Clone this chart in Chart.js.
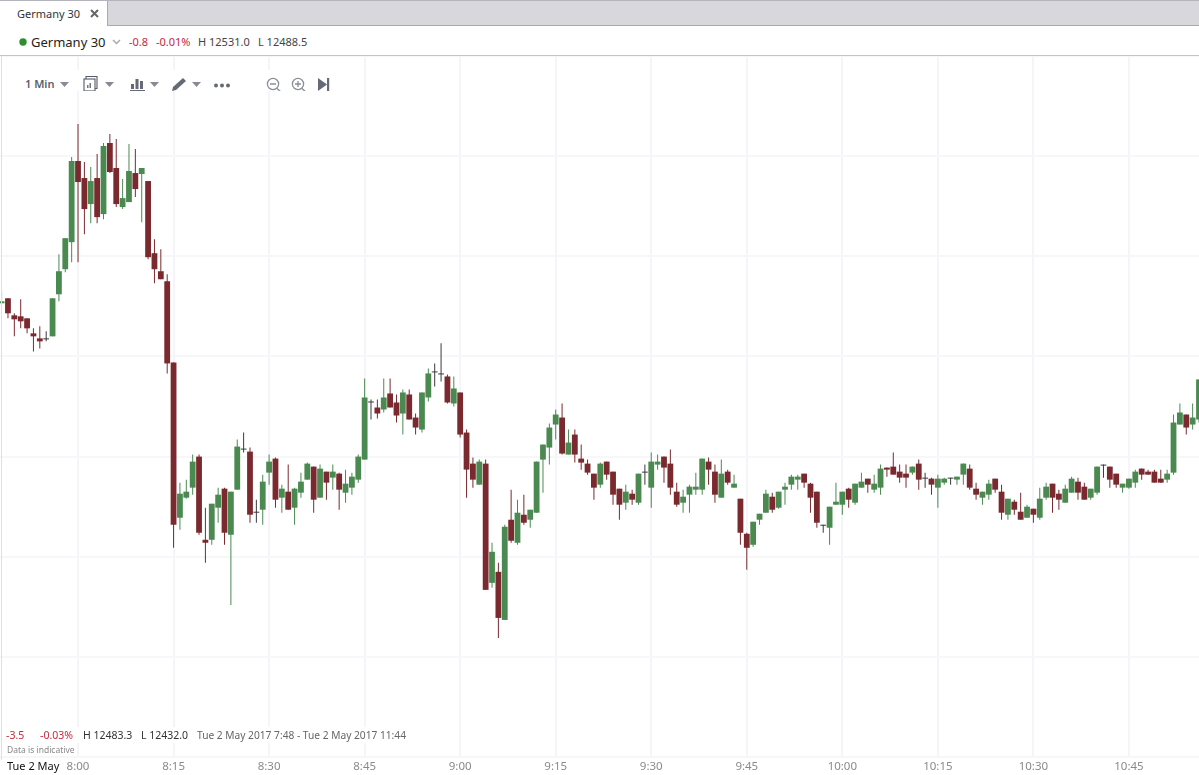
<!DOCTYPE html>
<html>
<head>
<meta charset="utf-8">
<title>Germany 30</title>
<script src="https://cdn.jsdelivr.net/npm/chart.js@4/dist/chart.umd.min.js"></script>
<style>
html, body { margin: 0; padding: 0; background: #fff; }
body { width: 1199px; height: 775px; position: relative; overflow: hidden; font-family: "Noto Sans", sans-serif; }
#chartBox { position: absolute; left: 0; top: 56px; width: 1199px; height: 719px; }
.t { position: absolute; white-space: nowrap; line-height: 14px; font-size: 11px; color: #444; }
.red { color: #c8283c; }
#tabs { position: absolute; left: 0; top: 0; width: 1199px; height: 24px; background: #d7d7dc; border-top: 1px solid #b4b4bc; border-bottom: 1px solid #a9a9b2; }
#tab { position: absolute; left: 0; top: 1px; width: 107px; height: 25px; background: #fff; border-right: 1px solid #a9a9b2; }
#headLine { position: absolute; left: 0; top: 55px; width: 1199px; height: 1px; background: #c4c4c8; }
#leftLine { position: absolute; left: 1px; top: 56px; width: 1px; height: 704px; background: #dfdfe3; }
#toolbar { position: absolute; left: 2px; top: 70px; }
#infoBg { position: absolute; left: 2px; top: 727px; width: 408px; height: 16px; background: #fff; }
</style>
</head>
<body>
<div id="chartBox"><canvas id="myChart" width="1199" height="719"></canvas></div>
<div id="tabs"></div>
<div id="tab"></div>
<div class="t" style="left:17px;top:7px;color:#333">Germany 30</div>
<svg style="position:absolute;left:90px;top:9px" width="10" height="10"><path d="M1 1 L8 8 M8 1 L1 8" stroke="#666" stroke-width="2"/></svg>
<svg style="position:absolute;left:19px;top:38px" width="8" height="8"><circle cx="4" cy="4" r="3.7" fill="#2f8f2f"/></svg>
<div class="t" style="left:31px;top:34px;font-size:13px;line-height:16px;color:#222">Germany 30</div>
<svg style="position:absolute;left:112px;top:39px" width="9" height="6"><path d="M1 1 L4.5 4.5 L8 1" fill="none" stroke="#aaa" stroke-width="1.5"/></svg>
<div class="t red" style="left:129px;top:35px">-0.8</div>
<div class="t red" style="left:156px;top:35px">-0.01%</div>
<div class="t" style="left:198px;top:35px">H 12531.0</div>
<div class="t" style="left:258px;top:35px">L 12488.5</div>
<div id="headLine"></div>
<div id="leftLine"></div>

<svg id="toolbar" width="338" height="21" viewBox="2 70 338 21">
  <rect x="2" y="70" width="338" height="21" fill="#fff"/>
  <g fill="#8a8a92">
    <path d="M60 82 h9 l-4.5 5 z"/><path d="M105 82 h9 l-4.5 5 z"/><path d="M150 82 h9 l-4.5 5 z"/><path d="M192 82 h9 l-4.5 5 z"/>
  </g>
  <g fill="none" stroke="#555a66" stroke-width="1.1">
    <rect x="84" y="79" width="11" height="12"/><path d="M86 79 v-2.5 h11 v12 h-2"/>
  </g>
  <path d="M87 88 v-3 h1.5 v3 M89.5 88 v-5 h1.5 v5" fill="#777"/>
  <g fill="#666a76">
    <rect x="131" y="84" width="3" height="5"/><rect x="135.5" y="79" width="3" height="10"/><rect x="140" y="81" width="3" height="8"/><rect x="130" y="90" width="15" height="1.3"/>
    <path d="M172 91 l1 -4 l10 -9 l3 3 l-10 9 z"/>
    <circle cx="216" cy="85.5" r="2"/><circle cx="222" cy="85.5" r="2"/><circle cx="228" cy="85.5" r="2"/>
    <path d="M318 78 l9 6.5 l-9 6.5 z"/><rect x="327" y="78" width="2.2" height="13"/>
  </g>
  <g fill="none" stroke="#8a8e96" stroke-width="1.3">
    <circle cx="273" cy="84" r="5.6"/><path d="M277 88.5 l4 3.5 M270 84 h6"/>
    <circle cx="298" cy="84" r="5.6"/><path d="M302 88.5 l4 3.5 M295 84 h6 M298 81 v6"/>
  </g>
</svg>
<div class="t" style="left:25px;top:77px;font-weight:600;color:#5a5f6c">1 Min</div>

<div id="infoBg"></div>
<div class="t red" style="left:6px;top:728px;font-size:10.5px">-3.5</div>
<div class="t red" style="left:40px;top:728px;font-size:10.5px">-0.03%</div>
<div class="t" style="left:83px;top:728px;font-size:10.5px;color:#333">H 12483.3</div>
<div class="t" style="left:141px;top:728px;font-size:10.5px;color:#333">L 12432.0</div>
<div class="t" style="left:197px;top:728px;font-size:10.2px;color:#666">Tue 2 May 2017 7:48 - Tue 2 May 2017 11:44</div>
<div class="t" style="left:7px;top:743px;font-size:8.5px;color:#888">Data is indicative</div>
<div class="t" style="left:7px;top:759px;font-size:11px;color:#111">Tue 2 May</div>

<script>
const startMinute = 468; // 7:48, one candle per minute

const opens = [
  12465.4,12465.9,12464.2,12464.1,12463.9,12462.4,12461.9,12461.9,12462.1,12466.3,
  12468.8,12471.5,12479.6,12477.9,12475.3,12477.9,12474.3,12481.4,12478.9,12475.0,
  12475.5,12478.4,12478.3,12477.6,12470.4,12468.6,12467.6,12459.5,12444.0,12446.0,
  12447.0,12450.1,12441.8,12441.8,12445.0,12446.9,12442.3,12446.8,12450.9,12450.6,
  12444.6,12444.8,12448.5,12449.9,12446.0,12446.6,12445.0,12446.5,12447.8,12449.1,
  12446.0,12448.6,12448.0,12448.4,12446.5,12447.0,12447.8,12449.8,12455.6,12455.0,
  12454.8,12456.4,12455.5,12454.4,12456.3,12454.0,12452.8,12456.0,12458.6,12458.4,
  12458.1,12455.4,12456.5,12452.5,12449.4,12447.3,12449.4,12437.5,12438.6,12433.8,
  12443.8,12441.5,12444.3,12443.8,12444.5,12449.8,12451.0,12453.3,12454.0,12450.3,
  12452.3,12449.9,12449.4,12448.4,12447.3,12449.6,12448.6,12446.9,12445.5,12446.4,
  12445.5,12448.6,12447.0,12449.3,12450.1,12449.4,12446.6,12445.5,12446.3,12446.8,
  12446.8,12449.6,12448.6,12446.0,12448.6,12447.0,12445.9,12442.4,12441.3,12443.8,
  12444.5,12446.1,12445.0,12446.8,12447.3,12447.8,12448.4,12447.4,12446.6,12443.3,
  12443.0,12445.3,12445.3,12446.9,12445.5,12447.0,12447.9,12446.8,12447.0,12449.0,
  12449.1,12448.6,12448.4,12448.5,12449.4,12448.0,12447.9,12447.0,12447.5,12448.0,
  12447.8,12448.3,12448.9,12446.9,12446.0,12446.3,12447.9,12446.6,12444.3,12445.6,
  12444.6,12444.0,12444.9,12444.0,12446.0,12447.4,12446.4,12445.5,12446.5,12447.6,
  12447.1,12446.0,12446.5,12449.3,12449.1,12448.4,12447.0,12447.0,12447.5,12448.9,
  12448.6,12448.6,12447.9,12447.8,12448.5,12453.3,12454.3,12453.3,12453.8
];
const highs = [
  12466.5,12465.9,12464.4,12465.8,12463.9,12462.9,12463.1,12462.6,12465.9,12470.3,
  12471.9,12480.0,12483.3,12479.5,12479.0,12480.3,12481.4,12482.3,12481.8,12477.8,
  12481.3,12480.8,12478.9,12477.6,12471.8,12470.8,12468.3,12459.5,12447.5,12447.8,
  12450.3,12450.3,12445.0,12445.4,12447.0,12447.0,12446.6,12451.8,12452.5,12451.0,
  12445.8,12448.3,12450.3,12450.0,12447.3,12449.3,12447.0,12448.5,12449.5,12449.1,
  12449.3,12448.6,12449.3,12448.5,12448.8,12448.5,12450.3,12457.9,12455.8,12455.8,
  12457.9,12457.9,12456.3,12456.8,12456.8,12454.4,12456.5,12458.9,12459.4,12461.4,
  12458.3,12458.1,12456.5,12452.8,12450.0,12449.8,12449.8,12441.5,12439.5,12443.3,
  12446.8,12445.8,12446.3,12444.8,12449.6,12451.3,12453.4,12454.8,12455.4,12452.8,
  12452.8,12451.3,12449.8,12448.4,12449.5,12449.6,12448.6,12446.9,12447.3,12446.8,
  12448.4,12449.3,12450.5,12450.3,12450.1,12450.8,12447.5,12446.8,12447.3,12448.5,
  12449.9,12450.0,12449.3,12449.8,12448.8,12448.3,12445.9,12442.5,12443.6,12444.4,
  12446.8,12446.5,12446.6,12447.5,12448.3,12448.3,12448.4,12447.5,12446.6,12443.3,
  12445.1,12447.5,12446.6,12447.0,12447.4,12448.5,12447.9,12448.3,12449.3,12449.0,
  12450.5,12449.3,12449.3,12449.1,12449.8,12448.5,12448.0,12448.3,12448.0,12448.0,
  12448.1,12449.4,12449.3,12447.5,12446.6,12447.8,12447.9,12447.3,12445.9,12445.8,
  12446.5,12445.3,12444.9,12447.0,12447.5,12447.4,12446.8,12447.3,12448.1,12448.0,
  12447.5,12446.9,12449.1,12449.3,12449.1,12448.4,12447.4,12447.9,12448.8,12448.9,
  12448.8,12448.8,12448.8,12448.8,12454.3,12455.4,12454.3,12455.4,12457.8
];
const lows = [
  12465.4,12463.9,12462.1,12462.9,12462.4,12460.6,12460.9,12461.6,12462.1,12465.6,
  12468.5,12469.5,12469.5,12472.3,12473.4,12473.4,12473.8,12478.4,12475.0,12474.8,
  12475.5,12476.0,12473.5,12469.8,12467.4,12467.8,12458.4,12441.0,12442.8,12445.9,
  12446.3,12442.3,12439.5,12441.3,12443.5,12441.3,12435.3,12446.8,12450.5,12443.5,
  12443.5,12443.3,12447.3,12445.0,12444.5,12444.8,12443.3,12446.0,12447.8,12444.5,
  12446.0,12445.8,12446.8,12444.8,12445.5,12446.3,12447.5,12449.8,12453.8,12453.9,
  12454.5,12455.0,12453.5,12452.3,12453.8,12452.3,12452.5,12455.6,12457.1,12457.6,
  12455.4,12455.1,12452.0,12446.0,12447.0,12447.3,12436.8,12437.0,12432.0,12433.8,
  12441.5,12441.3,12443.3,12443.0,12444.5,12446.5,12449.3,12451.8,12450.3,12450.3,
  12449.5,12448.8,12448.3,12445.8,12447.0,12447.8,12445.3,12443.8,12444.8,12445.3,
  12445.3,12447.3,12445.0,12448.8,12447.5,12446.3,12445.1,12444.5,12444.5,12446.3,
  12446.3,12447.3,12445.5,12446.0,12447.3,12447.0,12441.3,12438.8,12441.1,12443.3,
  12444.5,12444.5,12444.9,12445.3,12446.8,12446.8,12447.0,12444.5,12443.0,12442.5,
  12441.3,12445.3,12444.3,12445.0,12445.3,12447.0,12446.5,12446.5,12446.3,12448.1,
  12448.3,12447.5,12447.0,12448.3,12446.8,12447.0,12446.3,12445.0,12447.3,12447.3,
  12447.3,12447.3,12446.8,12445.8,12445.3,12445.8,12446.5,12443.8,12443.8,12444.3,
  12443.8,12444.0,12443.5,12443.8,12445.8,12444.5,12444.8,12445.5,12446.5,12445.8,
  12445.8,12445.8,12446.3,12448.0,12447.0,12447.0,12446.5,12446.9,12447.0,12447.8,
  12448.3,12447.5,12447.5,12447.5,12448.3,12453.3,12452.3,12452.8,12453.5
];
const closes = [
  12465.6,12464.4,12463.8,12463.6,12462.9,12462.1,12461.6,12461.8,12465.9,12468.6,
  12471.9,12479.6,12477.5,12474.8,12477.6,12474.0,12481.1,12478.5,12475.3,12475.9,
  12478.6,12476.8,12478.9,12470.0,12468.8,12467.8,12459.4,12443.3,12446.4,12446.6,
  12449.6,12442.5,12441.5,12445.4,12446.3,12442.5,12446.6,12451.1,12450.8,12444.3,
  12444.5,12447.6,12449.6,12445.8,12446.9,12444.8,12446.9,12447.6,12449.4,12445.8,
  12448.9,12447.5,12448.6,12446.8,12447.4,12448.1,12450.1,12456.0,12455.5,12454.4,
  12456.0,12455.0,12454.2,12456.5,12453.8,12453.0,12456.5,12458.4,12458.5,12458.3,
  12455.5,12456.9,12452.3,12448.8,12447.8,12449.6,12436.8,12440.6,12434.0,12443.1,
  12441.7,12444.5,12443.5,12444.8,12449.6,12451.3,12453.0,12454.3,12450.4,12451.5,
  12450.3,12449.5,12448.5,12447.0,12449.4,12448.3,12446.3,12445.3,12446.6,12445.8,
  12448.4,12448.5,12449.6,12449.6,12449.0,12447.0,12445.3,12446.1,12447.1,12447.1,
  12449.9,12448.8,12446.3,12448.4,12447.5,12447.4,12442.5,12441.0,12443.6,12444.4,
  12446.4,12444.8,12446.6,12447.1,12448.1,12448.1,12447.5,12446.0,12443.5,12443.2,
  12445.1,12445.6,12446.6,12445.8,12447.4,12447.6,12447.3,12447.4,12448.9,12448.8,
  12448.3,12448.0,12448.0,12449.1,12447.8,12447.9,12447.3,12447.9,12447.9,12447.9,
  12448.1,12449.4,12447.0,12446.3,12446.6,12447.4,12446.8,12444.5,12445.9,12444.8,
  12443.8,12445.1,12444.3,12445.9,12447.1,12446.0,12445.8,12446.9,12447.9,12446.5,
  12445.8,12446.9,12449.1,12449.2,12447.8,12447.3,12447.4,12447.9,12448.6,12448.3,
  12448.3,12447.5,12447.5,12448.4,12453.5,12454.5,12453.0,12454.0,12457.8
];

const greenCandle = '#4a8a50';
const redCandle = '#7a2a2e';
const dojiCandle = '#3a3a3e';

function candleColor(i) {
  const diff = closes[i] - opens[i];
  if (Math.abs(diff) < 0.15) return dojiCandle;
  return diff > 0 ? greenCandle : redCandle;
}

const colors = opens.map((o, i) => candleColor(i));
const bodies = opens.map((o, i) => ({ x: startMinute + i, y: [o, closes[i]] }));
const wicks = highs.map((h, i) => ({ x: startMinute + i, y: [lows[i], h] }));

function minuteLabel(v) {
  const m = v % 60;
  return Math.floor(v / 60) + ':' + (m < 10 ? '0' + m : m);
}

const ctx = document.getElementById('myChart').getContext('2d');
new Chart(ctx, {
  type: 'bar',
  data: {
    datasets: [
      { data: bodies, backgroundColor: colors, barThickness: 5.8, grouped: false, order: 1, inflateAmount: 0 },
      { data: wicks, backgroundColor: colors, barThickness: 1, grouped: false, order: 2, inflateAmount: 0 }
    ]
  },
  options: {
    responsive: false,
    animation: false,
    devicePixelRatio: 1,
    layout: { padding: 0 },
    plugins: { legend: { display: false }, tooltip: { enabled: false } },
    scales: {
      x: {
        type: 'linear',
        min: 467.75,
        max: 656,
        offset: false,
        afterFit: (s) => { s.height = 18; },
        grid: { color: '#f4f4fa', lineWidth: 2, drawTicks: false, offset: false },
        border: { display: false },
        ticks: {
          stepSize: 15,
          includeBounds: false,
          autoSkip: false,
          maxRotation: 0,
          padding: 3,
          color: '#8a8a8a',
          font: { family: '"Noto Sans"', size: 11.5 },
          callback: (v) => minuteLabel(v)
        }
      },
      y: {
        min: 12420.12,
        max: 12490.08,
        afterFit: (s) => { s.width = 0; },
        grid: { color: '#f7f7f9', lineWidth: 2, drawTicks: false },
        border: { display: false },
        ticks: { stepSize: 10, includeBounds: false, display: false }
      }
    }
  }
});
</script>
</body>
</html>
